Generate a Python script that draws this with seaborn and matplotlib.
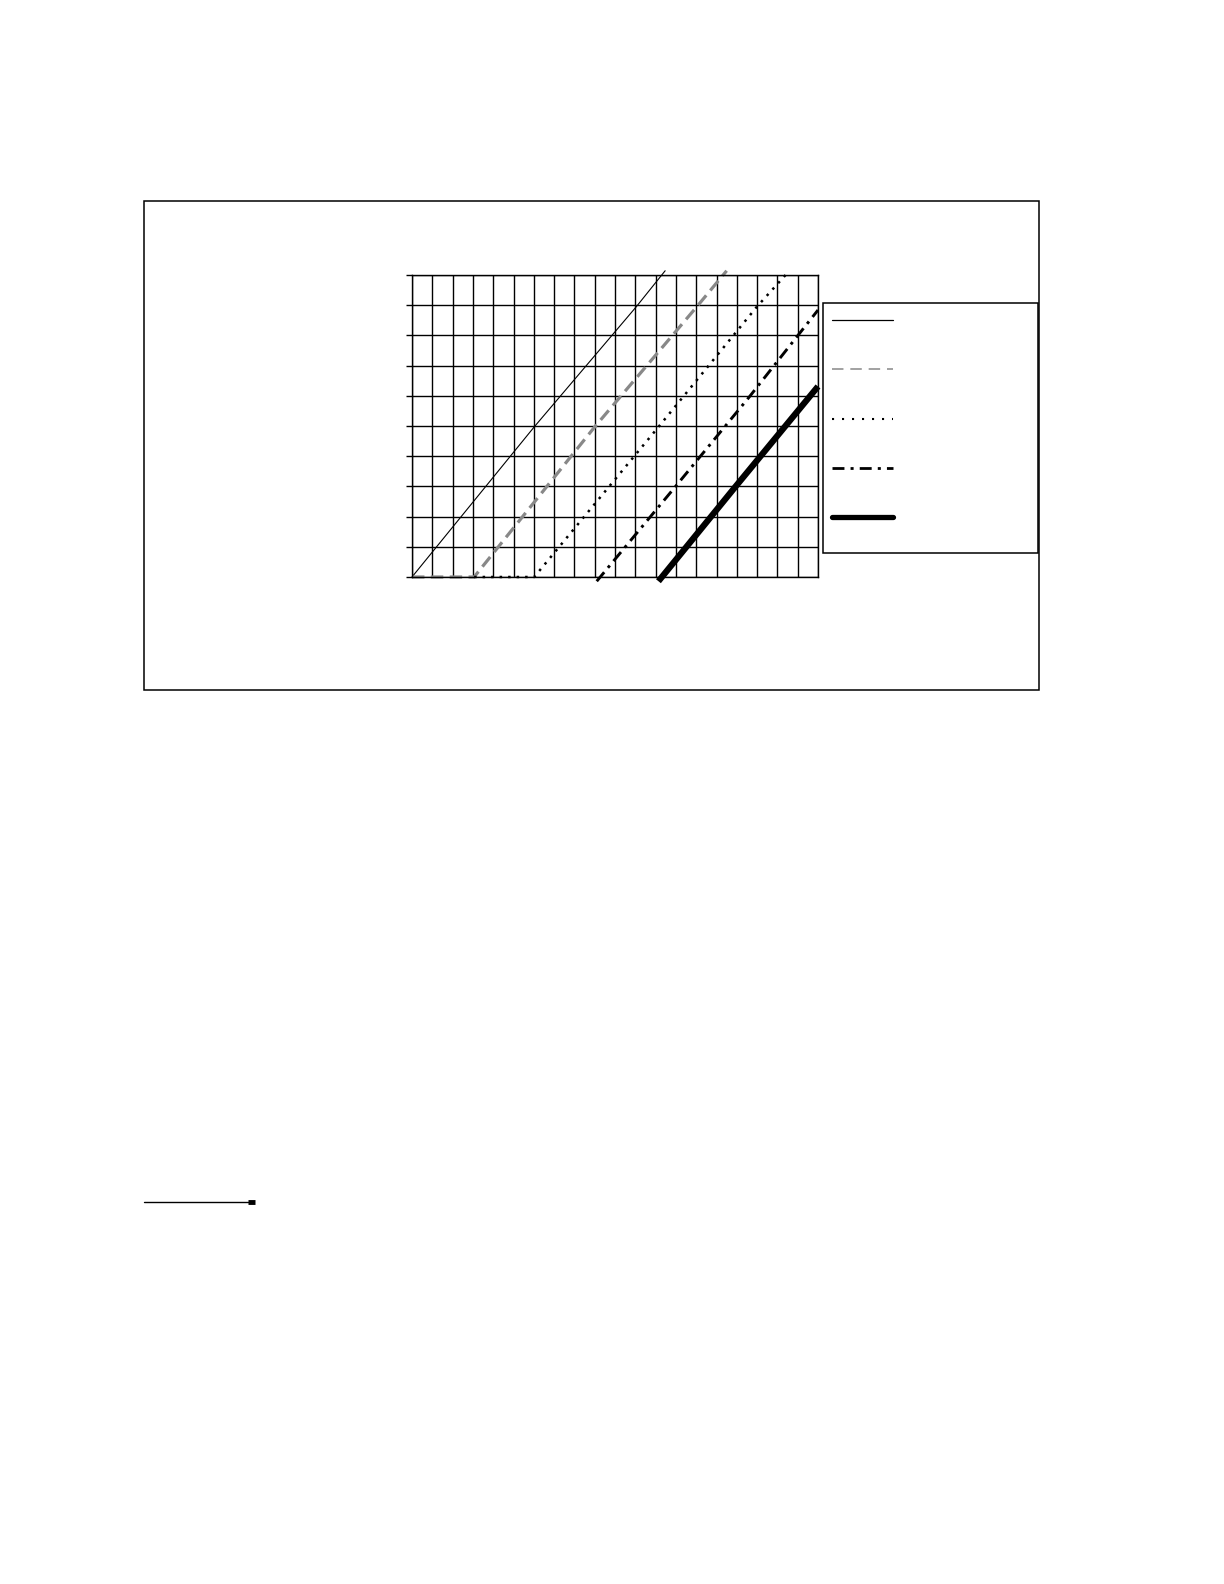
import matplotlib
matplotlib.use("Agg")
import matplotlib.pyplot as plt
import seaborn as sns
from matplotlib.lines import Line2D
from matplotlib.patches import Rectangle
from matplotlib.ticker import MultipleLocator

sns.set_style("white")

# curve data (x: 20 columns, y: 10 rows)
solid_x = [0, 6.02, 11.05, 12.47]
solid_y = [0, 4.97, 8.95, 10.14]
dashed_x = [0, 3.06, 9.0, 14.03, 15.5]
dashed_y = [0, 0, 4.97, 8.95, 10.14]
dotted_x = [3.06, 6.02, 12.02, 16.99, 18.55]
dotted_y = [0, 0, 4.87, 8.95, 10.11]
dashdot_x = [9.1, 12.96, 16.6, 20]
dashdot_y = [-0.14, 2.98, 5.95, 8.84]
thick_x = [12.14, 15.92, 20]
thick_y = [-0.14, 2.98, 6.31]

W, H = 1224, 1584
fig = plt.figure(figsize=(W / 100, H / 100), dpi=100)
ax = fig.add_axes([412 / W, 1 - 577 / H, (818 - 412) / W, (577 - 275) / H])

# --- curves
sns.lineplot(x=solid_x, y=solid_y, ax=ax, color="black", lw=0.8,
             sort=False, estimator=None, clip_on=False)
sns.lineplot(x=dashed_x, y=dashed_y, ax=ax, color="#888888", lw=2.3,
             linestyle=(0, (3.9, 2.0)), sort=False, estimator=None, clip_on=False)
sns.lineplot(x=dotted_x, y=dotted_y, ax=ax, color="black", lw=1.8,
             linestyle=(0, (1, 2.4)), sort=False, estimator=None, clip_on=False)
sns.lineplot(x=dashdot_x, y=dashdot_y, ax=ax, color="black", lw=2.1,
             linestyle=(0, (4, 2, 1, 2)), sort=False, estimator=None, clip_on=False)
sns.lineplot(x=thick_x, y=thick_y, ax=ax, color="black", lw=4.5,
             solid_capstyle="butt", sort=False, estimator=None, clip_on=False)

ax.set_xlim(0, 20)
ax.set_ylim(0, 10)
ax.xaxis.set_major_locator(MultipleLocator(1))
ax.yaxis.set_major_locator(MultipleLocator(1))
ax.grid(True, color="black", lw=1.0)
ax.set_axisbelow(True)
ax.set_xticklabels([])
ax.set_yticklabels([])
ax.tick_params(axis="x", length=0)
ax.tick_params(axis="y", left=True, length=4, width=1.0, color="black", direction="out")
for sp in ax.spines.values():
    sp.set_visible(True)
    sp.set_color("black")
    sp.set_linewidth(1.0)

# --- outer frame and legend box
fig.add_artist(Rectangle((144 / W, 1 - 690 / H), (1039 - 144) / W, (690 - 201) / H,
                         transform=fig.transFigure, fill=False, ec="black", lw=1.1))
fig.add_artist(Rectangle((823 / W, 1 - 553 / H), (1038 - 823) / W, (553 - 303) / H,
                         transform=fig.transFigure, fill=False, ec="black", lw=1.1))

handles = [
    Line2D([], [], color="black", lw=0.9),
    Line2D([], [], color="#888888", lw=1.1, linestyle=(0, (7.5, 4.5))),
    Line2D([], [], color="black", lw=1.5, linestyle=(0, (1, 3.8))),
    Line2D([], [], color="black", lw=2.0, linestyle=(0, (4.3, 2.2, 1.1, 2.2))),
    Line2D([], [], color="black", lw=3.8, solid_capstyle="round"),
]
fig.legend(handles, [""] * 5, loc="upper left",
           bbox_to_anchor=(832 / W, 1 - 314 / H), bbox_transform=fig.transFigure,
           frameon=False, fontsize=10, handlelength=4.4, labelspacing=2.54,
           borderpad=0, borderaxespad=0, handletextpad=0.5)

# --- footnote rule
fig.add_artist(Line2D([144 / W, 250 / W], [1 - 1202 / H] * 2, color="black", lw=1.0))
fig.add_artist(Line2D([248 / W, 255 / W], [1 - 1202 / H] * 2, color="black", lw=3.5,
                      solid_capstyle="butt"))

fig.savefig("out.png", dpi=100)
